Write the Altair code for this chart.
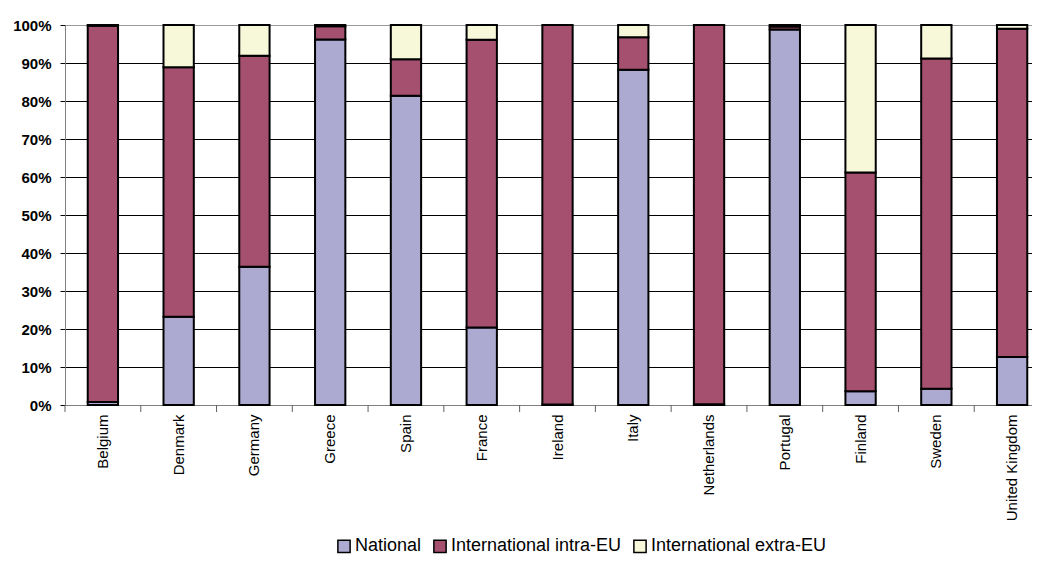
import altair as alt
import pandas as pd

countries = ["Belgium", "Denmark", "Germany", "Greece", "Spain", "France", "Ireland",
             "Italy", "Netherlands", "Portugal", "Finland", "Sweden", "United Kingdom"]
series = ["National", "International intra-EU", "International extra-EU"]
national = [0.8, 23.2, 36.4, 96.2, 81.4, 20.4, 0.1, 88.2, 0.2, 98.8, 3.6, 4.3, 12.6]
intra_eu = [99.0, 65.7, 55.5, 3.5, 9.6, 75.7, 99.9, 8.6, 99.8, 0.8, 57.6, 86.9, 86.4]
extra_eu = [0.2, 11.1, 8.1, 0.3, 9.0, 3.9, 0.0, 3.2, 0.0, 0.4, 38.8, 8.8, 1.0]
colors = ["#ACAAD0", "#A65070", "#F7F7DA"]
y_ticks = [0, 0.1, 0.2, 0.3, 0.4, 0.5, 0.6, 0.7, 0.8, 0.9, 1.0]

rows = []
for i, c in enumerate(countries):
    for k, (s, vals) in enumerate(zip(series, [national, intra_eu, extra_eu])):
        rows.append({"country": c, "series": s, "share": vals[i], "idx": k})
df = pd.DataFrame(rows)

FONT = "Liberation Sans"
W = 967          # visible plot width (the last band runs past the edge, as in the reference)
BAND_RANGE = 985
STEP = BAND_RANGE / len(countries)
PAD_INNER = 0.6
TICK_SHIFT = -STEP * PAD_INNER / 2

xscale = alt.Scale(paddingInner=PAD_INNER, paddingOuter=PAD_INNER / 2, range=[0, BAND_RANGE])
xaxis = alt.Axis(title=None, labelAngle=-90, labelFontSize=15, labelPadding=9,
                 ticks=False, domainColor="#808080", labelColor="black",
                 labelFont=FONT, labelLimit=0)

bars = alt.Chart(df).mark_bar(stroke="black", strokeWidth=2).encode(
    x=alt.X("country:N", sort=countries, scale=xscale, axis=xaxis),
    y=alt.Y("share:Q", stack="normalize", scale=alt.Scale(domain=[0, 1], nice=False),
            axis=alt.Axis(title=None, format=".0%", values=y_ticks, labelFontWeight="bold",
                          labelFontSize=15, labelFont=FONT, labelColor="black",
                          grid=True,
                          gridColor={"condition": {"test": "datum.value >= 1", "value": "#999999"},
                                     "value": "black"},
                          gridWidth=1, tickColor="black", tickSize=5, labelPadding=9,
                          domainColor="#808080")),
    color=alt.Color("series:N", scale=alt.Scale(domain=series, range=colors),
                    legend=alt.Legend(title=None, orient="none", direction="horizontal",
                                      legendX=270, legendY=512, symbolType="square",
                                      symbolSize=150, symbolStrokeColor="black",
                                      symbolStrokeWidth=1.5, labelFontSize=18, labelFont=FONT,
                                      labelColor="black", columnPadding=8, symbolOffset=0,
                                      labelOffset=2, labelLimit=0)),
    order=alt.Order("idx:Q"),
)

ticks = alt.Chart(pd.DataFrame({"country": countries})).mark_rule(
    color="#606060", xOffset=TICK_SHIFT).encode(
    x=alt.X("country:N", sort=countries, scale=xscale, bandPosition=0, axis=xaxis),
    y=alt.value(380),
    y2=alt.value(387),
)

chart = alt.layer(bars, ticks).properties(
    width=W, height=380,
    autosize=alt.AutoSizeParams(type="none"),
    padding={"left": 57, "top": 17, "right": 0, "bottom": 152},
).configure_view(stroke=None)

chart.save("out.html", embed_options={"renderer": "svg", "actions": False})
